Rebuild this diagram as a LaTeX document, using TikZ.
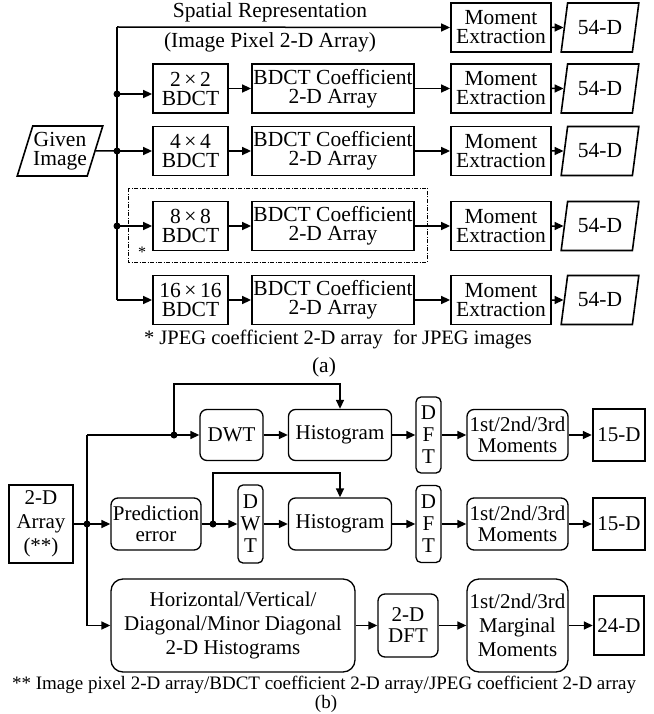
\documentclass[tikz,border=0pt]{standalone}
\usepackage{fontspec}
\setmainfont{Liberation Serif}
\usetikzlibrary{arrows.meta,shapes.geometric}
\begin{document}
\begin{tikzpicture}[x=1pt,y=-1pt,
  every node/.style={font=\fontsize{21.5}{19}\selectfont, inner sep=0pt, align=center},
  fb/.style={font=\fontsize{21}{24}\selectfont},
  fv/.style={font=\fontsize{21}{22}\selectfont},
  sq/.style={draw, line width=1.8pt},
  rnd/.style={draw, line width=1.3pt, rounded corners=7pt, fb},
  rndn/.style={draw, line width=1.3pt, rounded corners=5pt, fv},
  thk/.style={draw, line width=2.4pt, fb},
  para/.style={draw, line width=1.6pt, trapezium, trapezium left angle=#1, trapezium right angle=180-#1, trapezium stretches=true},
  ln/.style={line width=1.5pt},
  arr/.style={line width=1.5pt, -{Triangle[length=9pt,width=8pt]}},
  dashdot/.style={line width=0.9pt, dash pattern=on 4pt off 1.5pt on 1pt off 1.5pt},
  dot/.style={fill=black}
]
\useasboundingbox (0,0) rectangle (653,714);

% ---------------- (a) ----------------
\node (sr) at (270,12) {Spatial Representation};
\node (ip) at (270,42) {(Image Pixel 2-D Array)};

\node[para=68, minimum width=86, minimum height=50] (gi) at (60,151) {Given\\Image};

\coordinate (t0) at (117,27);
\coordinate (j2) at (117,94);
\coordinate (j3) at (117,151);
\coordinate (j4) at (117,226);
\coordinate (t5) at (117,300);

% row 1
\node[sq, minimum width=100, minimum height=49] (m1) at (501,27.5) {Moment\\Extraction};
\node[para=73, minimum width=78, minimum height=49] (d1) at (600,27.5) {54-D};
% row 2
\node[sq, minimum width=75, minimum height=49] (b2) at (190.5,88.5) {2\,×\,2\\BDCT};
\node[sq, minimum width=162, minimum height=49] (c2) at (333,88.5) {BDCT Coefficient\\2-D Array};
\node[sq, minimum width=100, minimum height=49] (m2) at (501,88.5) {Moment\\Extraction};
\node[para=73, minimum width=78, minimum height=49] (d2) at (600,88.5) {54-D};
% row 3
\node[sq, minimum width=75, minimum height=49] (b3) at (190.5,151) {4\,×\,4\\BDCT};
\node[sq, minimum width=162, minimum height=49] (c3) at (333,151) {BDCT Coefficient\\2-D Array};
\node[sq, minimum width=100, minimum height=49] (m3) at (501,151) {Moment\\Extraction};
\node[para=73, minimum width=78, minimum height=49] (d3) at (600,151) {54-D};
% row 4
\node[sq, minimum width=75, minimum height=49] (b4) at (190.5,226) {8\,×\,8\\BDCT};
\node[sq, minimum width=162, minimum height=49] (c4) at (333,226) {BDCT Coefficient\\2-D Array};
\node[sq, minimum width=100, minimum height=49] (m4) at (501,226) {Moment\\Extraction};
\node[para=73, minimum width=78, minimum height=49] (d4) at (600,226) {54-D};
% row 5
\node[sq, minimum width=75, minimum height=49] (b5) at (190.5,300) {16\,×\,16\\BDCT};
\node[sq, minimum width=162, minimum height=49] (c5) at (333,300) {BDCT Coefficient\\2-D Array};
\node[sq, minimum width=100, minimum height=49] (m5) at (501,300) {Moment\\Extraction};
\node[para=73, minimum width=78, minimum height=49] (d5) at (600,300) {54-D};

\draw[dashdot] (128,188) rectangle (427,262);
\node[font=\fontsize{16}{16}\selectfont] (st) at (142,252) {*};

\draw[ln] (gi.east) -- (j3);
\draw[ln] (t5) -- (t0);
\draw[arr] (t0) -- (m1.west);
\draw[arr] (j2) -- (j2 -| b2.west);
\draw[arr] (j3) -- (b3.west);
\draw[arr] (j4) -- (b4.west);
\draw[arr] (t5) -- (b5.west);
\foreach \r in {2,3,4,5}{
  \draw[arr] (b\r) -- (c\r);
  \draw[arr] (c\r) -- (m\r);
}
\foreach \r in {1,2,3,4,5}{
  \draw[arr] (m\r.east) -- (d\r);
}
\foreach \c in {j2,j3,j4}{\fill[dot] (\c) circle (3.5pt);}

\node[font=\fontsize{20.5}{20}\selectfont] (fa) at (338,339) {* JPEG coefficient 2-D array\ \ for JPEG images};
\node (la) at (324,367) {(a)};

% ---------------- (b) ----------------
\node[thk, minimum width=64, minimum height=78] (ar) at (41,524) {2-D\\Array\\(**)};
\coordinate (k1) at (87,435);
\coordinate (k2) at (87,524);
\coordinate (k3) at (87,625.5);
\coordinate (f1) at (174,435);
\coordinate (f2) at (213,524);

% row 1
\node[rnd, minimum width=63, minimum height=51] (dw1) at (231.5,435) {DWT};
\node[rnd, minimum width=103, minimum height=51] (h1) at (340,435) {Histogram};
\node[rndn, minimum width=25, minimum height=76] (df1) at (428.5,435) {D\\F\\T};
\node[rnd, minimum width=101, minimum height=51] (mo1) at (517.5,435) {1st/2nd/3rd\\[-3pt]Moments};
\node[thk, minimum width=52, minimum height=52] (o1) at (619,435) {15-D};
% row 2
\node[rnd, minimum width=90, minimum height=52] (pe) at (156,524) {Prediction\\[-3pt]error};
\node[rndn, minimum width=25, minimum height=78] (dw2) at (250.5,524) {D\\W\\T};
\node[rnd, minimum width=103, minimum height=52] (h2) at (340,524) {Histogram};
\node[rndn, minimum width=25, minimum height=77] (df2) at (428.5,524) {D\\F\\T};
\node[rnd, minimum width=101, minimum height=52] (mo2) at (517.5,524) {1st/2nd/3rd\\[-3pt]Moments};
\node[thk, minimum width=52, minimum height=52] (o2) at (619,524) {15-D};
% row 3
\node[rnd, rounded corners=12pt, minimum width=244, minimum height=93] (hg) at (233,625.5) {Horizontal/Vertical/\\Diagonal/Minor Diagonal\\2-D Histograms};
\node[rnd, minimum width=60, minimum height=63] (dd) at (408,625.5) {2-D\\[-3pt]DFT};
\node[rnd, rounded corners=12pt, minimum width=101, minimum height=93] (mm) at (517.5,625.5) {1st/2nd/3rd\\Marginal\\Moments};
\node[thk, minimum width=50, minimum height=59] (o3) at (619,625.5) {24-D};

\draw[ln] (ar.east) -- (k2);
\draw[ln] (k1) -- (k3);
\draw[arr] (k1) -- (dw1.west);
\draw[arr] (k2) -- (pe.west);
\draw[arr] (k3) -- (hg.west);
\draw[arr] (f1) -- (174,384) -| (h1.north);
\draw[arr] (pe.east) -- (dw2.west);
\draw[arr] (f2) -- (213,473) -| (h2.north);
\draw[arr] (dw1) -- (h1);
\draw[arr] (h1) -- (df1);
\draw[arr] (df1) -- (mo1);
\draw[arr] (mo1) -- (o1);
\draw[arr] (dw2) -- (h2);
\draw[arr] (h2) -- (df2);
\draw[arr] (df2) -- (mo2);
\draw[arr] (mo2) -- (o2);
\draw[arr] (hg) -- (dd);
\draw[arr] (dd) -- (mm);
\draw[arr] (mm) -- (o3);
\foreach \c in {k2,f1,f2}{\fill[dot] (\c) circle (3.5pt);}

\node[font=\fontsize{19}{19}\selectfont] (fnb) at (324,684.5) {** Image pixel 2-D array/BDCT coefficient 2-D array/JPEG coefficient 2-D array};
\node[font=\fontsize{19}{19}\selectfont] (lb) at (326,704) {(b)};
\end{tikzpicture}
\end{document}
